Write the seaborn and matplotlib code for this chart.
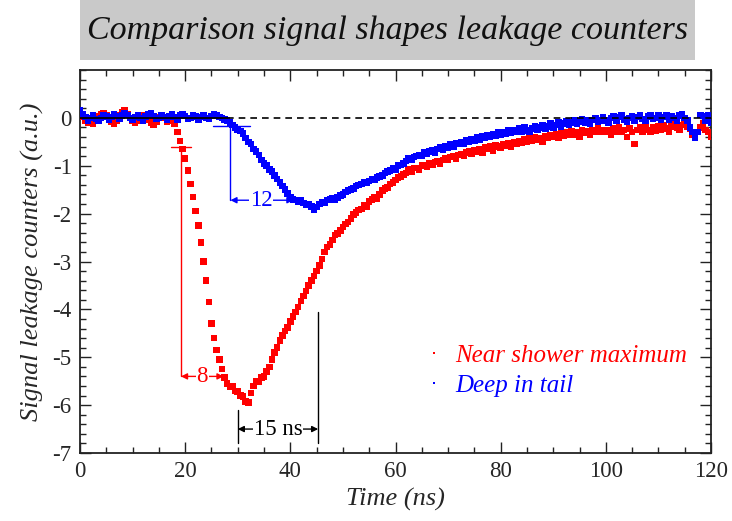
import numpy as np
import pandas as pd
import matplotlib
matplotlib.use("Agg")
import matplotlib.pyplot as plt
import seaborn as sns
from matplotlib.patches import Rectangle
from matplotlib.ticker import MultipleLocator

# ---------------- data ----------------
TIME_START = 0.0   # ns
TIME_STEP = 0.5

near_shower = [
    0.05, 0.02, -0.05, -0.10, -0.08, -0.12, -0.05, 0.03, 0.08, 0.10,
    0.05, -0.02, -0.08, -0.12, -0.05, 0.05, 0.12, 0.15, 0.08, 0.00,
    -0.06, -0.10, -0.05, 0.02, 0.06, 0.04, -0.03, -0.10, -0.14, -0.08,
    0.02, 0.05, 0.00, -0.08, -0.05, -0.06, -0.12, -0.30, -0.48, -0.65,
    -0.85, -1.10, -1.38, -1.65, -1.95, -2.25, -2.60, -3.00, -3.40, -3.85,
    -4.30, -4.60, -4.85, -5.05, -5.25, -5.42, -5.55, -5.62, -5.60, -5.70,
    -5.72, -5.80, -5.82, -5.92, -5.95, -5.75, -5.60, -5.50, -5.52, -5.42,
    -5.40, -5.30, -5.20, -5.05, -4.90, -4.80, -4.65, -4.55, -4.45, -4.38,
    -4.25, -4.15, -4.05, -3.95, -3.82, -3.72, -3.62, -3.50, -3.40, -3.30,
    -3.20, -3.08, -2.95, -2.80, -2.70, -2.65, -2.55, -2.45, -2.42, -2.35,
    -2.28, -2.22, -2.18, -2.10, -2.02, -1.98, -1.92, -1.90, -1.82, -1.85,
    -1.75, -1.70, -1.65, -1.68, -1.60, -1.52, -1.48, -1.45, -1.38, -1.35,
    -1.30, -1.25, -1.22, -1.18, -1.15, -1.08, -1.12, -1.05, -1.05, -1.08,
    -1.00, -0.98, -1.02, -0.95, -0.98, -0.92, -0.90, -0.95, -0.88, -0.85,
    -0.88, -0.82, -0.80, -0.85, -0.78, -0.75, -0.80, -0.72, -0.70, -0.75,
    -0.68, -0.70, -0.65, -0.72, -0.62, -0.65, -0.60, -0.68, -0.58, -0.60,
    -0.62, -0.55, -0.58, -0.52, -0.60, -0.50, -0.55, -0.48, -0.52, -0.45,
    -0.50, -0.42, -0.48, -0.40, -0.45, -0.42, -0.50, -0.38, -0.42, -0.36,
    -0.40, -0.35, -0.42, -0.32, -0.38, -0.30, -0.36, -0.28, -0.35, -0.30,
    -0.40, -0.26, -0.32, -0.28, -0.35, -0.25, -0.30, -0.22, -0.30, -0.26,
    -0.30, -0.25, -0.35, -0.22, -0.28, -0.20, -0.30, -0.25, -0.40, -0.22,
    -0.30, -0.55, -0.25, -0.20, -0.28, -0.18, -0.25, -0.30, -0.20, -0.26,
    -0.18, -0.25, -0.15, -0.22, -0.30, -0.18, -0.12, -0.20, -0.25, -0.15,
    -0.10, -0.18, -0.22, -0.35, -0.40, -0.30, -0.20, -0.12, -0.25, -0.30,
    -0.40,
]

deep_tail = [
    0.15, 0.08, 0.02, -0.05, 0.00, 0.05, -0.02, -0.06, 0.00, 0.06,
    0.03, -0.03, 0.02, 0.08, 0.04, -0.02, 0.05, 0.10, 0.06, 0.00,
    -0.04, 0.02, 0.06, 0.00, -0.05, 0.03, 0.08, 0.10, 0.04, -0.02,
    0.00, 0.05, 0.02, -0.04, 0.03, 0.07, 0.02, -0.03, 0.05, 0.08,
    0.04, -0.02, 0.00, 0.06, 0.03, -0.03, 0.02, 0.05, 0.00, -0.02,
    0.04, 0.08, 0.05, 0.02, 0.00, -0.03, -0.06, -0.10, -0.15, -0.20,
    -0.24, -0.27, -0.33, -0.42, -0.50, -0.55, -0.65, -0.70, -0.78, -0.88,
    -0.95, -1.00, -1.08, -1.12, -1.20, -1.28, -1.35, -1.42, -1.50, -1.58,
    -1.65, -1.70, -1.72, -1.75, -1.73, -1.78, -1.82, -1.80, -1.85, -1.92,
    -1.86, -1.80, -1.76, -1.78, -1.72, -1.70, -1.68, -1.72, -1.66, -1.62,
    -1.60, -1.55, -1.52, -1.50, -1.48, -1.42, -1.40, -1.38, -1.35, -1.36,
    -1.32, -1.28, -1.30, -1.25, -1.22, -1.20, -1.15, -1.12, -1.10, -1.05,
    -1.08, -1.00, -0.98, -0.95, -0.90, -0.85, -0.88, -0.82, -0.80, -0.78,
    -0.80, -0.72, -0.75, -0.70, -0.68, -0.72, -0.65, -0.62, -0.66, -0.60,
    -0.62, -0.56, -0.60, -0.52, -0.55, -0.50, -0.54, -0.46, -0.50, -0.44,
    -0.48, -0.40, -0.45, -0.38, -0.42, -0.36, -0.40, -0.34, -0.38, -0.30,
    -0.36, -0.30, -0.34, -0.26, -0.32, -0.25, -0.30, -0.22, -0.28, -0.20,
    -0.26, -0.30, -0.22, -0.18, -0.25, -0.20, -0.15, -0.22, -0.18, -0.12,
    -0.20, -0.15, -0.10, -0.18, -0.12, -0.08, -0.15, -0.10, -0.05, -0.12,
    -0.08, -0.02, -0.10, -0.05, -0.12, -0.04, 0.00, -0.08, -0.05, 0.02,
    -0.06, -0.10, 0.00, 0.04, -0.05, 0.02, 0.05, -0.03, -0.08, 0.00,
    0.04, -0.05, 0.02, 0.06, -0.02, -0.06, 0.03, 0.05, -0.02, 0.00,
    0.05, -0.04, 0.02, 0.06, -0.03, 0.04, 0.00, -0.05, 0.05, 0.08,
    0.00, -0.05, -0.20, -0.30, -0.42, -0.30, 0.06, 0.04, -0.05, 0.05,
    -0.10,
]

series_names = ["Near shower maximum", "Deep in tail"]
series_colors = ["#ff0000", "#0000ff"]
x_ticks = [0, 20, 40, 60, 80, 100, 120]
y_ticks = [-7, -6, -5, -4, -3, -2, -1, 0]
title_text = "Comparison signal shapes leakage counters"
x_label = "Time (ns)"
y_label = "Signal leakage counters (a.u.)"

# rise-time / width annotations (ns, a.u.)
red_width = ("8", 19.2, 27.3, -0.6, -5.4)     # label, x0, x1, y_top, y_arrow
blue_width = ("12", 28.6, 40.6, -0.18, -1.72)
black_width = ("15 ns", 30.0, 45.3, -6.5)

# ---------------- build table ----------------
time = TIME_START + TIME_STEP * np.arange(len(near_shower))
df = pd.concat([
    pd.DataFrame({"time": time, "signal": near_shower, "series": series_names[0]}),
    pd.DataFrame({"time": time, "signal": deep_tail, "series": series_names[1]}),
], ignore_index=True)

sns.set_theme(style="ticks")
plt.rcParams["font.family"] = ["Liberation Serif", "DejaVu Serif"]
plt.rcParams["axes.unicode_minus"] = False

fig = plt.figure(figsize=(7.32, 5.21), dpi=100)
W, H = 732, 521
ax = fig.add_axes([80 / W, 1 - 453 / H, (711 - 80) / W, (453 - 70) / H])

sns.scatterplot(data=df, x="time", y="signal", hue="series",
                palette=dict(zip(series_names, series_colors)),
                marker="s", s=22, linewidth=0, ax=ax, legend=True, zorder=3)

# zero reference line
ax.plot([0, 28], [0, 0], color="black", lw=1.3, zorder=4)
ax.plot([28, 120], [0, 0], color="black", lw=1.2, ls=(0, (4, 3)), zorder=4)

ax.set_xlim(0, 120)
ax.set_ylim(-7, 1)
ax.set_xticks(x_ticks)
ax.set_yticks(y_ticks)
ax.xaxis.set_minor_locator(MultipleLocator(5))
ax.yaxis.set_minor_locator(MultipleLocator(0.2))
ax.tick_params(which="both", direction="in", top=True, right=True,
               color="#222222", width=1.0, labelsize=16.5, pad=6)
ax.tick_params(which="major", length=8)
ax.tick_params(which="minor", length=4)
for sp in ax.spines.values():
    sp.set_linewidth(1.3)
    sp.set_color("#222222")

ax.set_xlabel(x_label, fontsize=19, style="italic", labelpad=4)
ax.set_ylabel(y_label, fontsize=19, style="italic", labelpad=6)

arrow_kw = dict(lw=1.0, mutation_scale=9, shrinkA=0, shrinkB=0)

# red 8 ns annotation
lab, x0, x1, yt, ya = red_width
c = series_colors[0]
ax.plot([x0, x0], [yt, ya], color=c, lw=1.0, zorder=2)
ax.plot([x0 - 1.9, x0 + 1.9], [yt, yt], color=c, lw=1.0, zorder=2)
ax.annotate("", xy=(x1, ya), xytext=(x0, ya),
            arrowprops=dict(arrowstyle="<|-|>", color=c, **arrow_kw), zorder=2)
ax.text((x0 + x1) / 2, ya, lab, color=c, fontsize=16.5, ha="center", va="center",
        bbox=dict(fc="white", ec="none", pad=0.5), zorder=2.5)

# blue 12 ns annotation
lab, x0, x1, yt, ya = blue_width
c = series_colors[1]
ax.plot([x0, x0], [yt, ya], color=c, lw=1.0, zorder=2)
ax.plot([x0 - 3.4, x0 + 3.7], [yt, yt], color=c, lw=1.0, zorder=2)
ax.annotate("", xy=(x1, ya), xytext=(x0, ya),
            arrowprops=dict(arrowstyle="<|-|>", color=c, **arrow_kw), zorder=2)
ax.text(34.5, ya, lab, color=c, fontsize=16.5, ha="center", va="center",
        bbox=dict(fc="white", ec="none", pad=0.5), zorder=2.5)

# black 15 ns annotation
lab, x0, x1, ya = black_width
ax.plot([x0, x0], [-6.1, -6.8], color="black", lw=1.0, zorder=2)
ax.plot([x1, x1], [-4.05, -6.8], color="black", lw=1.0, zorder=2)
ax.annotate("", xy=(x1, ya), xytext=(x0, ya),
            arrowprops=dict(arrowstyle="<|-|>", color="black", **arrow_kw), zorder=2)
ax.text((x0 + x1) / 2, ya, lab, color="black", fontsize=16.5, ha="center", va="center",
        bbox=dict(fc="white", ec="none", pad=0.5), zorder=2.5)

# legend
handles, labels = ax.get_legend_handles_labels()
leg = ax.legend(handles, labels, loc="center left", bbox_to_anchor=(0.515, 0.215),
                frameon=False, markerscale=0.4, handlelength=0.5, handletextpad=0.6,
                labelspacing=0.3, prop=dict(size=18, style="italic",
                                            family=["Liberation Serif"]))
for t, c in zip(leg.get_texts(), series_colors):
    t.set_color(c)

# title in grey box
fig.patches.append(Rectangle((80 / W, 1 - 60 / H), (695 - 80) / W, 60 / H,
                             transform=fig.transFigure, facecolor="#c9c9c9",
                             edgecolor="none", zorder=0))
fig.text((80 + 695) / 2 / W, 1 - 31 / H, title_text, fontsize=24.5, style="italic",
         ha="center", va="center", color="#111111")

fig.savefig("out.png", dpi=100)
